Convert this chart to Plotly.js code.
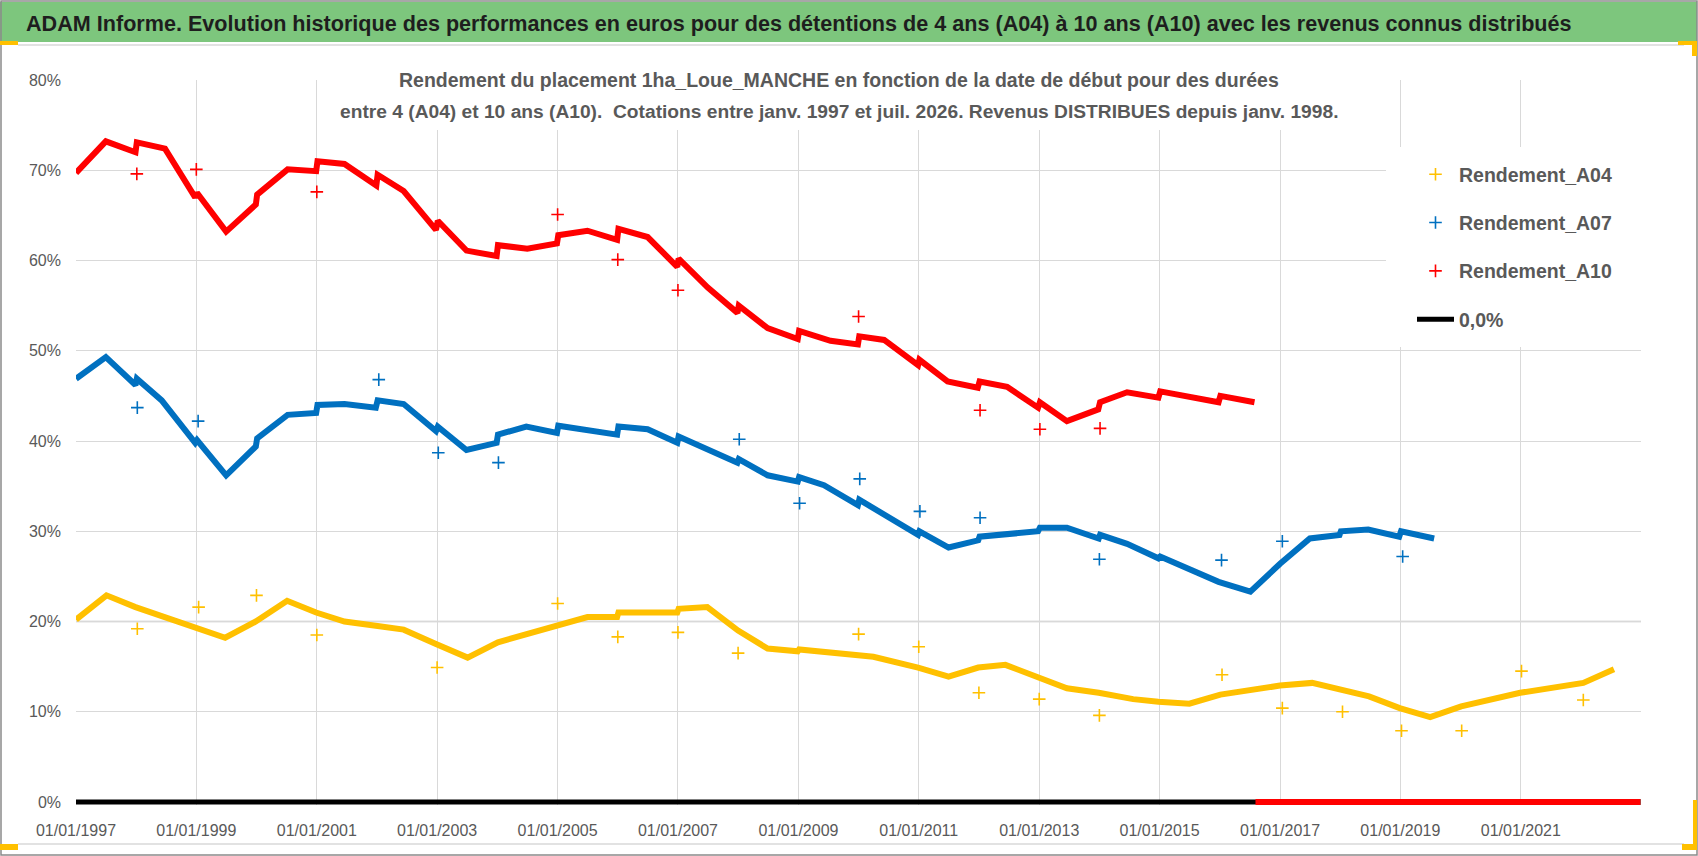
<!DOCTYPE html>
<html>
<head>
<meta charset="utf-8">
<script src="https://cdn.plot.ly/plotly-3.0.1.min.js"></script>
<style>
  html, body { margin: 0; padding: 0; background: #ffffff; }
  #chart { width: 1698px; height: 856px; }
</style>
</head>
<body>
<div id="chart"></div>
<script>
// ---------------- DATA ----------------
// Rendement_A04 : main band (dates, values in %), zeros after the end of data
const a04Dates = ['1997-01-01','1997-07-05','1997-12-28','1998-12-20','1999-06-25','1999-12-28','2000-07-05','2000-12-28',
  '2001-06-18','2002-01-05','2002-06-12','2002-12-25','2003-07-05','2004-01-05','2004-12-25','2005-07-01','2005-12-28',
  '2006-01-05','2006-12-28','2007-01-05','2007-06-28','2008-01-01','2008-06-28','2008-12-28','2009-01-05','2009-12-28',
  '2010-04-01','2010-12-28','2011-07-01','2011-12-28','2012-06-10','2012-12-28','2013-06-18','2013-12-28','2014-07-25',
  '2014-12-25','2015-07-01','2016-01-05','2016-08-25','2017-01-01','2017-07-15','2018-01-10','2018-06-25','2018-12-28',
  '2019-07-01','2020-01-05','2020-12-28','2022-01-15','2022-07-20', null, '2022-08-01','2022-12-28'];
const a04Vals = [20.2,22.9,21.6,19.4,18.2,20.0,22.3,21.0,
  20.0,19.5,19.1,17.5,16.0,17.7,19.6,20.5,20.5,
  21.0,21.0,21.4,21.6,19.0,17.0,16.7,16.9,16.3,
  16.1,14.9,13.9,14.9,15.2,13.8,12.6,12.1,11.4,
  11.1,10.9,11.9,12.6,12.9,13.2,12.4,11.7,10.4,
  9.4,10.6,12.1,13.2,14.7, null, 0, 0];
// isolated points (values on distribution dates)
const a04OutDates = ['1998-01-08','1999-01-15','2000-01-01','2001-01-01','2003-01-01','2005-01-01','2006-01-01','2007-01-01',
  '2008-01-01','2010-01-01','2011-01-01','2012-01-01','2013-01-01','2014-01-01','2016-01-15','2017-01-15','2018-01-15',
  '2019-01-08','2020-01-08','2021-01-05','2022-01-15'];
const a04OutVals = [19.2,21.6,22.9,18.5,14.9,22.0,18.3,18.8,
  16.5,18.6,17.2,12.1,11.4,9.6,14.1,10.4,10.0,
  7.9,7.9,14.5,11.3];

// Rendement_A07
const a07Dates = ['1997-01-01','1997-07-01','1997-12-28','1998-01-05','1998-06-05','1998-12-25','1999-01-05','1999-07-01',
  '1999-12-28','2000-01-05','2000-07-08','2000-12-28','2001-01-05','2001-06-18','2001-12-25','2002-01-05','2002-06-12',
  '2002-12-25','2003-01-05','2003-06-28','2003-12-28','2004-01-05','2004-06-25','2004-12-28','2005-01-05','2005-12-28',
  '2006-01-05','2006-07-01','2006-12-28','2007-01-05','2007-12-28','2008-01-05','2008-06-28','2008-12-28','2009-01-05',
  '2009-06-05','2009-12-28','2010-01-05','2010-12-28','2011-01-05','2011-07-01','2011-12-28','2012-01-05','2012-06-20',
  '2012-12-25','2013-01-05','2013-06-18','2013-12-28','2014-01-05','2014-06-18','2014-12-25','2015-01-05','2015-12-25',
  '2016-07-05','2017-01-01','2017-07-01','2017-12-28','2018-01-05','2018-06-20','2018-12-25','2019-01-05','2019-07-25',
  null,'2019-08-01','2022-12-28'];
const a07Vals = [46.9,49.3,46.2,46.9,44.5,39.8,40.1,36.2,
  39.4,40.3,42.9,43.1,44.0,44.1,43.7,44.5,44.1,
  41.1,41.6,39.0,39.8,40.7,41.6,40.9,41.7,40.7,
  41.6,41.3,39.8,40.5,37.6,38.0,36.2,35.5,36.0,
  35.1,32.9,33.5,29.6,30.0,28.2,29.0,29.4,29.7,
  30.0,30.4,30.4,29.2,29.6,28.6,27.0,27.2,24.4,
  23.3,26.4,29.2,29.6,30.0,30.2,29.4,30.0,29.2,
  null,0,0];
const a07OutDates = ['1998-01-08','1999-01-12','2002-01-12','2003-01-08','2004-01-08','2008-01-08','2009-01-08','2010-01-08',
  '2011-01-08','2012-01-08','2014-01-01','2016-01-12','2017-01-15','2019-01-15'];
const a07OutVals = [43.7,42.2,46.8,38.7,37.6,40.2,33.1,35.8,
  32.2,31.5,26.9,26.8,28.9,27.2];

// Rendement_A10
const a10Dates = ['1997-01-01','1997-07-01','1997-12-28','1998-01-05','1998-06-25','1998-12-25','1999-01-05','1999-07-01',
  '1999-12-28','2000-01-05','2000-07-08','2000-12-28','2001-01-05','2001-06-18','2001-12-28','2002-01-05','2002-06-12',
  '2002-12-25','2003-01-05','2003-06-28','2003-12-28','2004-01-05','2004-07-01','2004-12-28','2005-01-05','2005-07-01',
  '2005-12-28','2006-01-05','2006-07-01','2006-12-28','2007-01-05','2007-07-01','2007-12-28','2008-01-05','2008-06-28',
  '2008-12-28','2009-01-05','2009-07-15','2009-12-28','2010-01-05','2010-06-05','2010-12-28','2011-01-05','2011-06-25',
  '2011-12-25','2012-01-05','2012-06-20','2012-12-25','2013-01-05','2013-06-18','2013-12-25','2014-01-05','2014-06-18',
  '2014-12-25','2015-01-05','2015-12-25','2016-01-05','2016-07-30', null,'2016-08-05','2022-12-28'];
const a10Vals = [69.7,73.2,72.0,73.1,72.4,67.0,67.5,63.2,
  66.2,67.3,70.1,69.9,71.0,70.7,68.3,69.5,67.7,
  63.4,64.4,61.1,60.5,61.7,61.3,61.9,62.8,63.3,
  62.3,63.5,62.6,59.3,60.2,57.0,54.2,55.0,52.5,
  51.3,52.2,51.1,50.7,51.6,51.2,48.4,49.0,46.6,
  45.9,46.6,46.0,43.7,44.3,42.2,43.5,44.3,45.4,
  44.8,45.5,44.3,45.0,44.3, null, 0, 0];
const a10OutDates = ['1998-01-05','1999-01-01','2001-01-01','2005-01-01','2006-01-01','2007-01-01','2010-01-01','2012-01-08',
  '2013-01-05','2014-01-05'];
const a10OutVals = [69.6,70.1,67.6,65.1,60.1,56.7,53.8,43.4,41.3,41.4];

// 0,0% reference line
const zeroDates = ['1997-01-01','2022-12-28'];
const zeroVals = [0, 0];

// Axis / text
const yTickVals = [0,10,20,30,40,50,60,70,80];
const yTickText = ['0%','10%','20%','30%','40%','50%','60%','70%','80%'];
const seriesNames = ['Rendement_A04','Rendement_A07','Rendement_A10','0,0%'];
const titleText = 'ADAM Informe. Evolution historique des performances en euros pour des détentions de 4 ans (A04) à 10 ans (A10) avec les revenus connus distribués';
const subLine1 = 'Rendement du placement 1ha_Loue_MANCHE en fonction de la date de début pour des durées';
const subLine2 = 'entre 4 (A04) et 10 ans (A10).  Cotations entre janv. 1997 et juil. 2026. Revenus DISTRIBUES depuis janv. 1998.';

// ---------------- STYLE / LAYOUT ----------------
const W = 1698, H = 856;
const L = 76, R = 1641, T = 80, B = 805;
const PX = x => (x - L) / (R - L);
const PY = y => (B - y) / (B - T);
const FONT = '"Liberation Sans", Arial, sans-serif';
const GREY = '#595959';
const C04 = '#FFC000', C07 = '#0070C0', C10 = '#FF0000';

function band(x, y, color, group) {
  return {x: x, y: y, type: 'scatter', mode: 'lines', connectgaps: false,
    line: {color: color, width: 6}, legendgroup: group, showlegend: false, hoverinfo: 'skip'};
}
function pts(x, y, color, name, rank) {
  return {x: x, y: y, type: 'scatter', mode: 'markers', name: name, legendgroup: name, legendrank: rank,
    marker: {symbol: 'cross-thin-open', size: 9, color: color, line: {color: color, width: 1.6}}};
}

const traces = [
  {x: zeroDates, y: zeroVals, type: 'scatter', mode: 'lines', name: seriesNames[3], legendgroup: 'z', legendrank: 4,
    line: {color: '#000000', width: 5}},
  band(a04Dates, a04Vals, C04, seriesNames[0]),
  pts(a04OutDates, a04OutVals, C04, seriesNames[0], 1),
  band(a07Dates, a07Vals, C07, seriesNames[1]),
  pts(a07OutDates, a07OutVals, C07, seriesNames[1], 2),
  band(a10Dates, a10Vals, C10, seriesNames[2]),
  pts(a10OutDates, a10OutVals, C10, seriesNames[2], 3)
];

function rect(x0, y0, x1, y1, fill, line, layer) {
  return {type: 'rect', xref: 'paper', yref: 'paper', x0: PX(x0), x1: PX(x1), y0: PY(y1), y1: PY(y0),
    fillcolor: fill || 'rgba(0,0,0,0)', line: line || {width: 0}, layer: layer || 'above'};
}
function hline(x0, x1, y, color, w) {
  return {type: 'line', xref: 'paper', yref: 'paper', x0: PX(x0), x1: PX(x1), y0: PY(y), y1: PY(y),
    line: {color: color, width: w}, layer: 'above'};
}

const shapes = [
  rect(0, 2, 1697, 42, '#7DC67D', {width: 0}, 'below'),
  hline(18, 1684, 45, '#d9d9d9', 1.5),
  hline(18, 1684, 844, '#d9d9d9', 1.5),
  {type: 'line', xref: 'paper', yref: 'y', x0: 0, x1: 1, y0: 20, y1: 20, line: {color: '#bfbfbf', width: 1.5}, layer: 'below'},
  rect(333, 70, 1342, 130, '#ffffff'),
  rect(1386, 147, 1646, 347, '#ffffff'),
  rect(1, 1, 1697, 855, 'rgba(0,0,0,0)', {color: '#8a8a8a', width: 1.5}),
  rect(0, 41, 18, 45, '#FFC000'),
  rect(0, 844, 18, 850, '#FFC000'),
  rect(1678, 41, 1697, 45, '#FFC000'),
  rect(1692, 41, 1697, 56, '#FFC000'),
  rect(1693, 800, 1697, 850, '#FFC000'),
  rect(1682, 844, 1697, 850, '#FFC000')
];

const layout = {
  width: W, height: H,
  margin: {l: L, r: W - R, t: T, b: H - B, pad: 0},
  paper_bgcolor: '#ffffff', plot_bgcolor: '#ffffff',
  font: {family: FONT, color: GREY},
  title: {text: '<b>' + titleText + '</b>', font: {family: FONT, size: 21.6, color: '#1e1e1e'},
    xref: 'container', yref: 'container', x: 26 / W, xanchor: 'left', y: 1 - 23 / H, yanchor: 'middle'},
  xaxis: {type: 'date', range: ['1997-01-01', '2022-12-31'], tick0: '1997-01-01', dtick: 'M24',
    tickformat: '%d/%m/%Y', showgrid: true, gridcolor: '#d9d9d9', gridwidth: 1, zeroline: false,
    showline: false, ticks: '', ticklabelstandoff: 14, tickfont: {family: FONT, size: 16, color: GREY}},
  yaxis: {range: [-0.33, 80], tickmode: 'array', tickvals: yTickVals, ticktext: yTickText, showgrid: true,
    gridcolor: '#d9d9d9', gridwidth: 1, zeroline: false, showline: false, ticks: '', ticklabelstandoff: 14,
    tickfont: {family: FONT, size: 16, color: GREY}},
  showlegend: true,
  legend: {x: PX(1412), y: PY(155), xanchor: 'left', yanchor: 'top', bgcolor: 'rgba(255,255,255,0)',
    font: {family: FONT, size: 19.5, color: GREY, weight: 'bold'}, traceorder: 'grouped', tracegroupgap: 20,
    itemwidth: 37},
  shapes: shapes,
  annotations: [
    {text: '<b>' + subLine1 + '</b>', xref: 'paper', yref: 'paper', x: PX(839), y: PY(80), xanchor: 'center', yanchor: 'middle',
      showarrow: false, font: {family: FONT, size: 19.5, color: GREY}},
    {text: '<b>' + subLine2 + '</b>', xref: 'paper', yref: 'paper', x: PX(839), y: PY(112), xanchor: 'center', yanchor: 'middle',
      showarrow: false, font: {family: FONT, size: 19.2, color: GREY}}
  ]
};

Plotly.newPlot('chart', traces, layout, {staticPlot: true, displayModeBar: false});
</script>
</body>
</html>
